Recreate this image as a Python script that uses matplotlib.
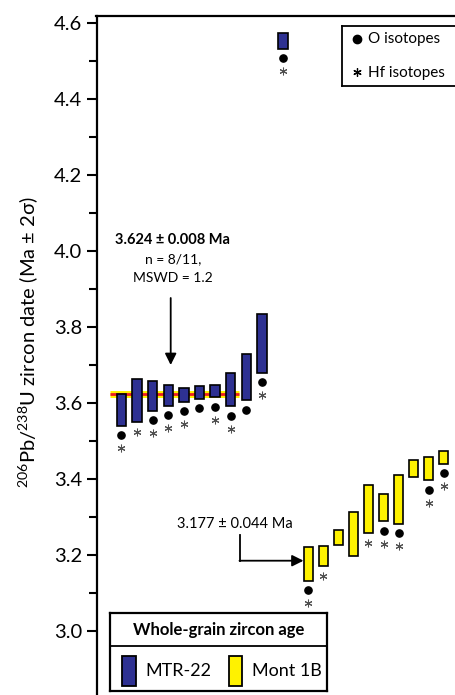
import numpy as np
import matplotlib
matplotlib.use('Agg')
import matplotlib.pyplot as plt
from matplotlib.patches import Rectangle

plt.rcParams['font.family'] = ['Lato', 'DejaVu Sans']
plt.rcParams['mathtext.default'] = 'regular'

# whole-grain 206Pb/238U dates (Ma), top and bottom of the 2 sigma bars
blue_hi = [3.624, 3.662, 3.658, 3.647, 3.639, 3.645, 3.647, 3.679, 3.729, 3.834, 4.574]
blue_lo = [3.540, 3.551, 3.579, 3.593, 3.603, 3.611, 3.615, 3.592, 3.607, 3.679, 4.532]
blue_o = [1, 0, 1, 1, 1, 1, 1, 1, 1, 1, 1]
blue_hf = [1, 1, 1, 1, 1, 0, 1, 1, 0, 1, 1]

yellow_hi = [3.222, 3.224, 3.266, 3.314, 3.384, 3.361, 3.411, 3.449, 3.457, 3.474]
yellow_lo = [3.132, 3.172, 3.226, 3.197, 3.258, 3.289, 3.282, 3.404, 3.397, 3.440]
yellow_o = [1, 0, 0, 0, 0, 1, 1, 0, 1, 1]
yellow_hf = [1, 1, 0, 0, 1, 1, 1, 0, 1, 1]

mean_age = 3.624
n_in_mean = 8
yticks = [3.0, 3.2, 3.4, 3.6, 3.8, 4.0, 4.2, 4.4, 4.6]

BLUE = '#2e3192'
YELLOW = '#fff200'

W, H = 455, 695
PX = 380.0  # pixels per Ma on the y axis


def val(y_px):
    # y value of a pixel row
    return 4.6 - (y_px - 23) / PX


def fig_box(x0, y0, x1, y1):
    return [x0 / W, 1 - y1 / H, (x1 - x0) / W, (y1 - y0) / H]


fig = plt.figure(figsize=(W / 100, H / 100), dpi=100)
ax = fig.add_axes(fig_box(96.5, 16, 470, 712))
ax.set_xlim(96.5, 470)
ax.set_ylim(val(712), val(16))

blue_x = list(121.5 + 15.6 * np.arange(len(blue_hi) - 1)) + [283.0]
yellow_x = list(308.3 + 15.05 * np.arange(len(yellow_hi)))


def draw_set(xs, hi, lo, has_o, has_hf, color):
    hi = np.array(hi)
    lo = np.array(lo)
    ax.bar(xs, hi - lo, bottom=lo, width=9.5, color=color,
           edgecolor='black', linewidth=1.2, zorder=3)
    for x, b, o, hf in zip(xs, lo, has_o, has_hf):
        y = b - 9.5 / PX
        if o:
            ax.plot(x, y, 'o', color='black', ms=5.2, zorder=4)
            y -= 13 / PX
        else:
            y -= 1 / PX
        if hf:
            ax.plot(x, y, marker=(6, 2, 0), color='#505050', ms=5.5,
                    mew=0.75, zorder=4)


# weighted mean line
x_a = blue_x[0] - 11
x_b = blue_x[n_in_mean - 1] + 8
ax.plot([x_a, x_b], [mean_age, mean_age], color='#fff200', lw=5,
        solid_capstyle='butt', zorder=2)
ax.plot([x_a, x_b], [mean_age, mean_age], color='#ed1c24', lw=2,
        solid_capstyle='butt', zorder=2.5)

draw_set(blue_x, blue_hi, blue_lo, blue_o, blue_hf, BLUE)
draw_set(yellow_x, yellow_hi, yellow_lo, yellow_o, yellow_hf, YELLOW)

# annotations
ax.text(172.7, val(239.5), '3.624 ± 0.008 Ma', ha='center', va='center',
        fontsize=10.5, fontweight='bold')
ax.text(172.7, val(259.5), 'n = 8/11,', ha='center', va='center', fontsize=10)
ax.text(172.7, val(278.5), 'MSWD = 1.2', ha='center', va='center', fontsize=10)
ax.annotate('', xy=(170.7, val(365)), xytext=(170.7, val(298)),
            arrowprops=dict(arrowstyle='-|>', color='black', lw=1.3,
                            mutation_scale=17, shrinkA=0, shrinkB=0))

ax.text(235, val(524), '3.177 ± 0.044 Ma', ha='center', va='center',
        fontsize=10.5)
ax.plot([240, 240], [val(535), val(560.7)], color='black', lw=1.3)
ax.annotate('', xy=(303.5, val(560.7)), xytext=(239.5, val(560.7)),
            arrowprops=dict(arrowstyle='-|>', color='black', lw=1.3,
                            mutation_scale=17, shrinkA=0, shrinkB=0))

# axes styling
for side in ['right', 'bottom']:
    ax.spines[side].set_visible(False)
for side in ['left', 'top']:
    ax.spines[side].set_linewidth(1.6)
ax.set_xticks([])
ax.set_yticks(yticks)
ax.set_yticklabels([f'{t:.1f}' for t in yticks])
ax.set_yticks(np.array(yticks[:-1]) + 0.1, minor=True)
ax.tick_params(axis='y', which='major', length=7.5, width=1.5, pad=3,
               labelsize=14.5)
ax.tick_params(axis='y', which='minor', length=5.5, width=1.5)

fig.text(28 / W, 1 - 342 / H, r'$^{206}$Pb/$^{238}$U zircon date (Ma ± 2σ)',
         rotation=90, ha='center', va='center', fontsize=14.5)

# isotope legend (top right)
lg = fig.add_axes(fig_box(342, 26, 470, 86))
lg.set_xlim(342, 470)
lg.set_ylim(86, 26)
lg.set_xticks([])
lg.set_yticks([])
for s in lg.spines.values():
    s.set_linewidth(1.3)
lg.plot(357, 39, 'o', color='black', ms=6)
lg.text(368, 39.5, 'O isotopes', va='center', fontsize=11)
lg.plot(357, 72, marker=(6, 2, 0), color='black', ms=6, mew=0.9)
lg.text(368, 72.5, 'Hf isotopes', va='center', fontsize=11)

# sample legend (bottom)
bl = fig.add_axes(fig_box(110, 613, 327, 691))
bl.set_xlim(110, 327)
bl.set_ylim(691, 613)
bl.set_xticks([])
bl.set_yticks([])
for s in bl.spines.values():
    s.set_linewidth(1.6)
bl.axhline(646, color='black', lw=1.3)
bl.text(218.5, 630, 'Whole-grain zircon age', ha='center', va='center',
        fontsize=12, fontweight='bold')
bl.add_patch(Rectangle((122, 656), 13.5, 30, facecolor=BLUE,
                       edgecolor='black', lw=1.3))
bl.text(145.5, 671.5, 'MTR-22', va='center', fontsize=13)
bl.add_patch(Rectangle((228.7, 656), 13.5, 30, facecolor=YELLOW,
                       edgecolor='black', lw=1.3))
bl.text(251.5, 671.5, 'Mont 1B', va='center', fontsize=13)

fig.savefig('out.png', dpi=100)
